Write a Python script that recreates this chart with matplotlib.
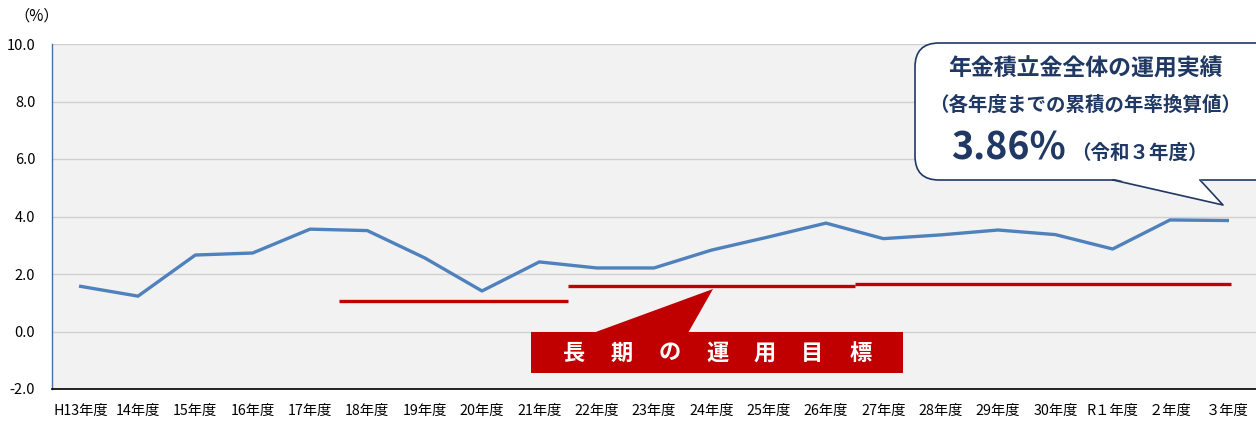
import numpy as np
import matplotlib.pyplot as plt
from matplotlib.patches import FancyBboxPatch, Polygon, Rectangle

plt.rcParams['font.family'] = ['Noto Sans CJK JP', 'DejaVu Sans']

# Data
years = ["H13年度", "14年度", "15年度", "16年度", "17年度", "18年度", "19年度",
         "20年度", "21年度", "22年度", "23年度", "24年度", "25年度", "26年度",
         "27年度", "28年度", "29年度", "30年度", "R１年度", "２年度", "３年度"]
returns = [1.57, 1.23, 2.66, 2.73, 3.56, 3.51, 2.56, 1.41, 2.42, 2.21, 2.21,
           2.83, 3.29, 3.77, 3.23, 3.36, 3.53, 3.37, 2.87, 3.88, 3.86]

# long-term targets: (start index, end index, value)
target_start = [4.5, 8.5, 13.5]
target_end = [8.5, 13.5, 20.07]
target_value = [1.06, 1.58, 1.65]

W, H = 1256, 421
fig = plt.figure(figsize=(W / 100, H / 100), dpi=100)
ax = fig.add_axes([52 / W, 1 - 389 / H, 1 - 52 / W, (389 - 44) / H])

x = np.arange(len(years))
ax.set_facecolor("#f2f2f2")
ax.plot(x, returns, color="#4f81bd", lw=2.4, zorder=3)
for s, e, v in zip(target_start, target_end, target_value):
    ax.plot([s, e], [v, v], color="#c00000", lw=2.4, zorder=3, solid_capstyle="butt")

ax.set_xlim(-0.5, len(years) - 0.5)
ax.set_ylim(-2, 10)
yt = np.arange(-2, 10.1, 2)
ax.set_yticks(yt)
ax.set_yticklabels([f"{v:.1f}" for v in yt], fontsize=10.5)
ax.set_xticks(x)
ax.set_xticklabels(years, fontsize=10.3)
ax.tick_params(length=0)
ax.tick_params(axis="y", pad=12)
ax.tick_params(axis="x", pad=11)
ax.grid(axis="y", color="#d0d0d0", lw=1)
ax.set_axisbelow(True)
for side in ["top", "right"]:
    ax.spines[side].set_visible(False)
ax.spines["left"].set_color("#4a6fa5")
ax.spines["left"].set_linewidth(1)
ax.spines["bottom"].set_color("black")
ax.spines["bottom"].set_linewidth(1.2)

# overlay in pixel units for the annotations
ov = fig.add_axes([0, 0, 1, 1], zorder=5)
ov.set_xlim(0, W)
ov.set_ylim(H, 0)
ov.axis("off")

ov.text(14, 16, "（%）", fontsize=11, va="center", ha="left")

# red label box with pointer
ov.add_patch(Rectangle((531, 332), 903 - 531, 41, facecolor="#c00000", edgecolor="none"))
ov.add_patch(Polygon([(593, 333), (713, 289), (688, 333)], closed=True,
                     facecolor="#c00000", edgecolor="none"))
for i, ch in enumerate("長期の運用目標"):
    ov.text(574 + i * 47.7, 353, ch, color="white", fontsize=16, fontweight="bold",
            ha="center", va="center")

# callout bubble
navy = "#1f3864"
ov.add_patch(FancyBboxPatch((915, 43), 380, 137, boxstyle="round,pad=0,rounding_size=24",
                            facecolor="white", edgecolor=navy, lw=1.2))
ov.add_patch(Polygon([(1113, 178.5), (1223, 205), (1200, 178.5)], closed=True,
                     facecolor="white", edgecolor="none", zorder=3))
ov.plot([1113, 1223, 1200], [180, 205, 180], color=navy, lw=1.2, zorder=4)

ov.text(1085, 69, "年金積立金全体の運用実績", color=navy, fontsize=16.5,
        fontweight="bold", ha="center", va="center")
ov.text(1085, 105, "（各年度までの累積の年率換算値）", color=navy, fontsize=14,
        fontweight="bold", ha="center", va="center")
ov.text(1066, 148, "3.86%", color=navy, fontsize=27, fontweight="bold",
        ha="right", va="center")
ov.text(1071, 153, "（令和３年度）", color=navy, fontsize=14, fontweight="bold",
        ha="left", va="center")

fig.savefig("out.png", dpi=100)
